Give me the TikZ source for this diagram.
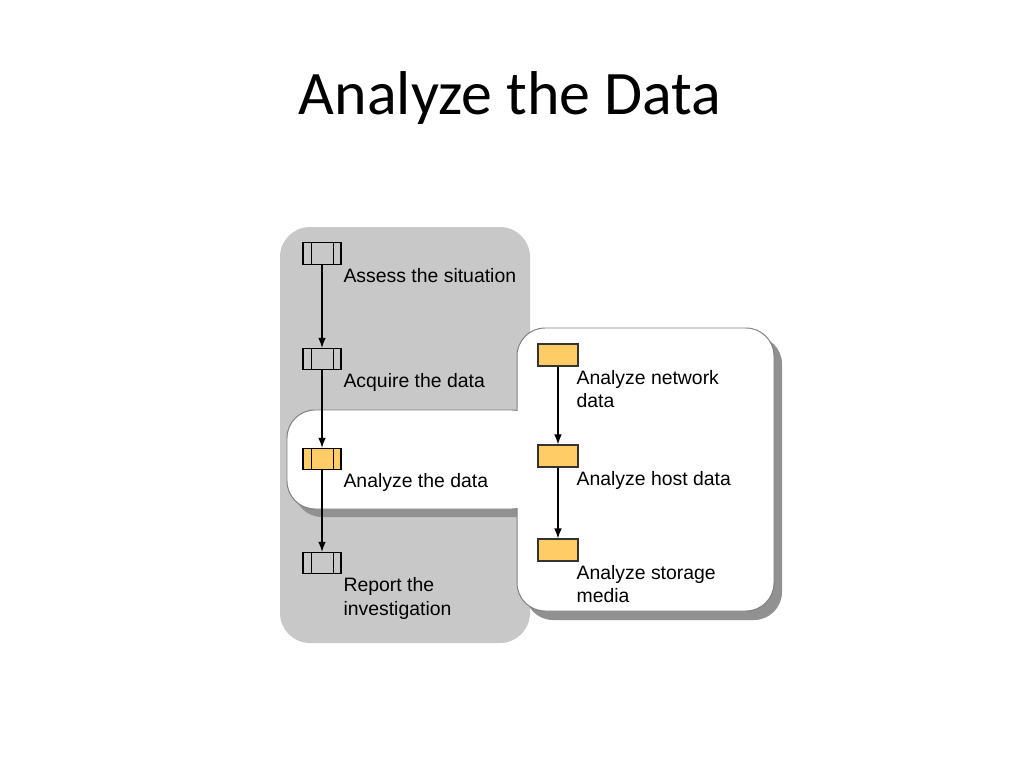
\documentclass[tikz,border=0pt]{standalone}
\usepackage{fontspec}
\setmainfont{Liberation Sans}
\newfontfamily\titlefont{Carlito}
\usetikzlibrary{arrows.meta}
\definecolor{panelgray}{RGB}{200,200,200}
\definecolor{shadowgray}{RGB}{145,145,145}
\definecolor{linegray}{RGB}{128,128,128}
\definecolor{steporange}{RGB}{255,204,102}
\tikzset{
  procbox/.style={draw=black, line width=0.8pt, minimum width=0.95cm, minimum height=0.53cm, inner sep=0pt,
    path picture={
      \draw[line width=0.6pt] ([xshift=0.2cm]path picture bounding box.north west) -- ([xshift=0.2cm]path picture bounding box.south west);
      \draw[line width=0.6pt] ([xshift=-0.18cm]path picture bounding box.north east) -- ([xshift=-0.18cm]path picture bounding box.south east);
    }},
  subbox/.style={draw=black!80, line width=0.8pt, fill=steporange, minimum width=1cm, minimum height=0.55cm, inner sep=0pt},
  steplabel/.style={anchor=north west, inner sep=0pt, align=left, font=\fontsize{13.8}{17}\selectfont, xshift=1.2pt, yshift=-2.2pt},
  flow/.style={line width=0.8pt, -{Latex[length=0.25cm,width=0.19cm]}}
}
\begin{document}
\begin{tikzpicture}[x=0.025cm,y=-0.025cm]
\useasboundingbox (0,0) rectangle (1024,768);
\node[anchor=base, inner sep=0pt] (title) at (510,115) {\titlefont\fontsize{44}{52}\selectfont Analyze the Data};
% grey panel of the main steps
\fill[panelgray, rounded corners=0.75cm] (280,227) rectangle (530,643);
% shadows
\fill[shadowgray, rounded corners=0.7cm] (294,418) rectangle (547,517);
\fill[shadowgray, rounded corners=0.7cm] (525,336) rectangle (782,620);
% white panel with the tab
\filldraw[fill=white, draw=linegray, line width=0.7pt, rounded corners=0.7cm] (287,410) rectangle (540,509);
\filldraw[fill=white, draw=linegray, line width=0.7pt, rounded corners=0.7cm] (517,328) rectangle (774,611);
\fill[white] (514,411) rectangle (522,508);
% main steps
\node[procbox] (assess) at (322,253.5) {};
\node[procbox] (acquire) at (322,359) {};
\node[procbox, fill=steporange] (analyze) at (322,459) {};
\node[procbox] (report) at (322,563) {};
\node[steplabel] (assesslbl) at (assess.south east) {Assess the situation};
\node[steplabel] (acquirelbl) at (acquire.south east) {Acquire the data};
\node[steplabel] (analyzelbl) at (analyze.south east) {Analyze the data};
\node[steplabel] (reportlbl) at (report.south east) {Report the\\investigation};
\draw[flow] (assess) -- (acquire);
\draw[flow] (acquire) -- (analyze);
\draw[flow] (analyze) -- (report);
% sub steps
\node[subbox] (network) at (558,355) {};
\node[subbox] (host) at (558,456) {};
\node[subbox] (storage) at (558,550) {};
\node[steplabel, xshift=-2.8pt] (networklbl) at (network.south east) {Analyze network\\data};
\node[steplabel, xshift=-2.8pt] (hostlbl) at (host.south east) {Analyze host data};
\node[steplabel, xshift=-2.8pt] (storagelbl) at (storage.south east) {Analyze storage\\media};
\draw[flow] (network) -- (host);
\draw[flow] (host) -- (storage);
\end{tikzpicture}
\end{document}
